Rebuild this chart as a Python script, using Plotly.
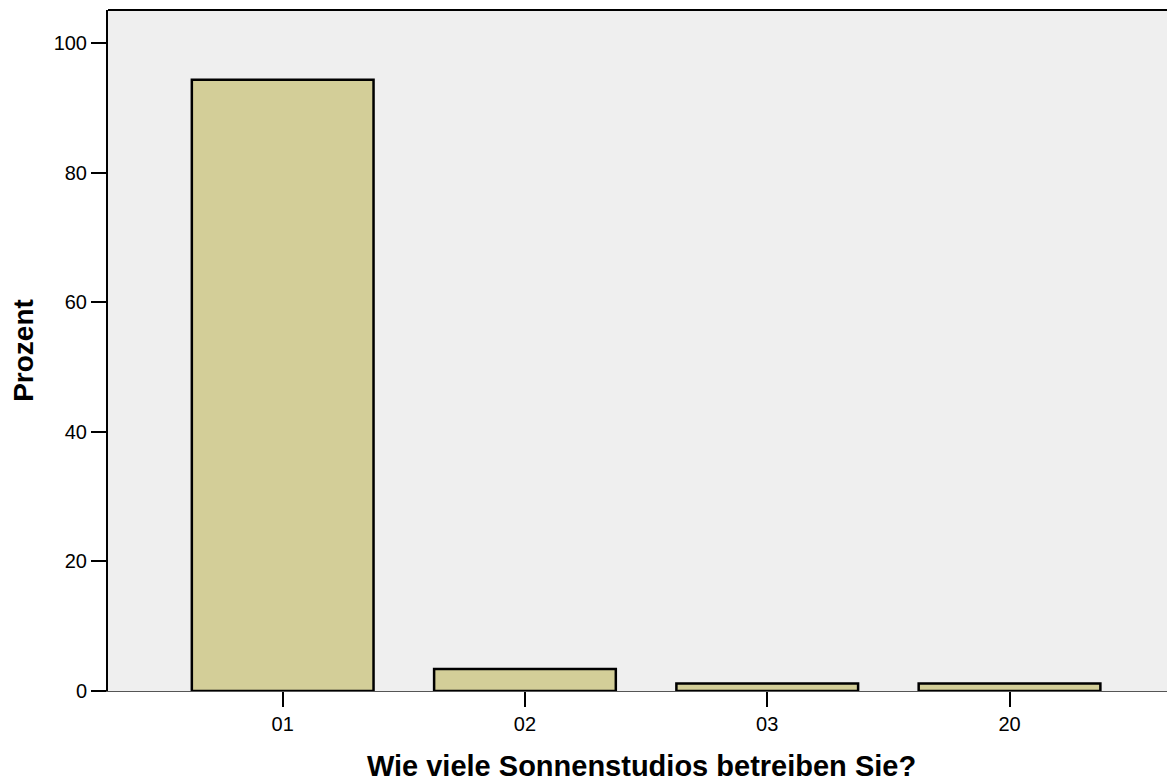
import plotly.graph_objects as go

categories = ["01", "02", "03", "20"]
percent = [94.32, 3.41, 1.14, 1.14]
y_ticks = [0, 20, 40, 60, 80, 100]

fig = go.Figure()
fig.add_trace(go.Bar(
    x=categories, y=percent, width=0.75,
    marker=dict(color="#d3ce98", line=dict(color="black", width=2.5)),
))

# page body has an 8px default margin, so the figure is offset by 8px
fig.update_layout(
    width=1167, height=775,
    margin=dict(l=100, r=0, t=2, b=92),
    paper_bgcolor="white", plot_bgcolor="#efefef",
    font=dict(family="Liberation Sans, Arial, sans-serif", color="black", size=20),
    showlegend=False,
    xaxis=dict(
        type="category", range=[-0.721, 3.683],
        showgrid=False, zeroline=False,
        showline=True, linecolor="#555555", linewidth=1,
        ticks="outside", ticklen=15, tickwidth=2, tickcolor="black",
        tickfont=dict(size=20),
        title=dict(text="<b>Wie viele Sonnenstudios betreiben Sie?</b>", font=dict(size=29), standoff=21),
    ),
    yaxis=dict(
        range=[0, 105.1], tickvals=y_ticks,
        showgrid=False, zeroline=False,
        showline=True, linecolor="black", linewidth=2,
        ticks="outside", ticklen=15, tickwidth=2, tickcolor="black",
        tickfont=dict(size=20),
        title=dict(text="<b>Prozent</b>", font=dict(size=28), standoff=18),
    ),
    shapes=[dict(type="line", xref="paper", yref="paper", x0=0, x1=1, y0=1, y1=1,
                 line=dict(color="black", width=2))],
)

fig.write_html("out.html")
